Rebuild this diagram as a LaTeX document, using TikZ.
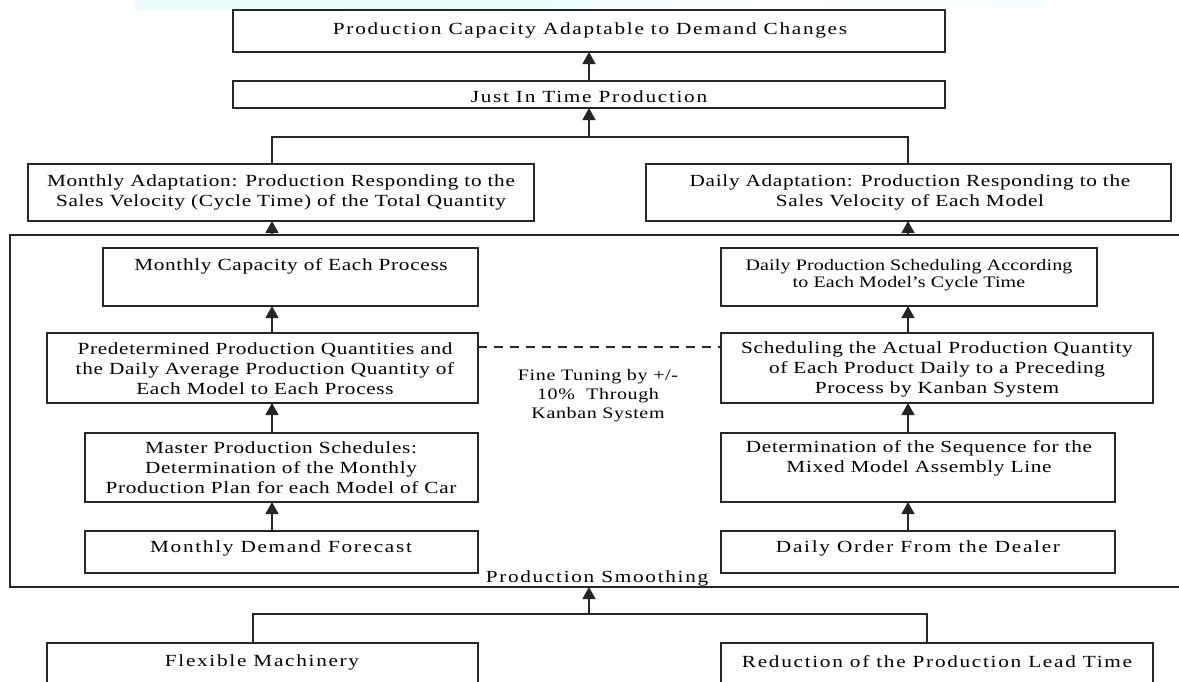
\documentclass[tikz,border=0pt]{standalone}
\usepackage{fontspec}
\setmainfont{Liberation Serif}[FakeStretch=1.25,LetterSpace=4]
\usetikzlibrary{arrows.meta}

% faint band along the top edge
\pgfdeclarehorizontalshading{topband}{100bp}{color(0bp)=(white); color(8bp)=(black!7); color(18bp)=(black!4); color(30bp)=(cyan!8); color(45bp)=(cyan!9); color(60bp)=(white); color(78bp)=(cyan!4); color(90bp)=(black!7); color(100bp)=(white)}

\begin{document}
\begin{tikzpicture}[x=1pt,y=-1pt,
  box/.style={draw=black!85, line width=1.3pt, fill=white, rectangle, inner sep=0pt, outer sep=0pt},
  txt/.style={align=center, inner sep=0pt, font=\fontsize{17}{20}\selectfont},
  widetxt/.style={align=center, inner sep=0pt, font=\fontsize{17}{20}\selectfont\addfontfeature{LetterSpace=10}},
  smalltxt/.style={align=center, inner sep=0pt, font=\fontsize{16}{17}\selectfont\addfontfeature{LetterSpace=1}},
  link/.style={draw=black!85, line width=1.3pt},
  up/.style={link, -{Triangle[length=12pt,width=13pt]}},
  dashline/.style={draw=black!85, line width=1.3pt, dash pattern=on 9pt off 7pt}
]
\useasboundingbox (0,0) rectangle (1179,681);
\clip (0,0) rectangle (1179,681);
\fill[white] (0,0) rectangle (1179,681);
\shade[shading=topband] (135,0) rectangle (1045,9);

% outer frame of the production smoothing block (open on the right)
\coordinate (frTR) at (1190,235);
\coordinate (frTL) at (10,235);
\coordinate (frBL) at (10,587);
\coordinate (frBR) at (1190,587);
\draw[link] (frTR) -- (frTL) -- (frBL) -- (frBR);

% boxes
\node[box, minimum width=712pt, minimum height=42pt] (top) at (589,31) {};
\node[box, minimum width=712pt, minimum height=27pt] (jit) at (589,94.5) {};
\node[box, minimum width=506pt, minimum height=57pt] (monad) at (281,192.5) {};
\node[box, minimum width=525pt, minimum height=57pt] (dayad) at (908.5,192.5) {};
\node[box, minimum width=375pt, minimum height=58pt] (cap) at (290.5,277) {};
\node[box, minimum width=431pt, minimum height=70pt] (pre) at (262.5,368) {};
\node[box, minimum width=393pt, minimum height=69pt] (mps) at (281.5,467.5) {};
\node[box, minimum width=393pt, minimum height=42pt] (mdf) at (281.5,552) {};
\node[box, minimum width=376pt, minimum height=58pt] (dps) at (909,277) {};
\node[box, minimum width=432pt, minimum height=70pt] (sch) at (937,368) {};
\node[box, minimum width=394pt, minimum height=69pt] (det) at (918,467.5) {};
\node[box, minimum width=394pt, minimum height=42pt] (dod) at (918,552) {};
\node[box, minimum width=431pt, minimum height=60pt] (flex) at (262.5,673) {};
\node[box, minimum width=432pt, minimum height=60pt] (red) at (937,673) {};

% box texts
\node[widetxt] (top-t) at (590,30) {Production Capacity Adaptable to Demand Changes};
\node[widetxt] (jit-t) at (589,97) {Just In Time Production};
\node[txt] (monad-t) at (281,192) {Monthly Adaptation: Production Responding to the\\Sales Velocity (Cycle Time) of the Total Quantity};
\node[txt] (dayad-t) at (910,192) {Daily Adaptation: Production Responding to the\\Sales Velocity of Each Model};
\node[txt] (cap-t) at (291,266) {Monthly Capacity of Each Process};
\node[txt] (pre-t) at (265,369) {Predetermined Production Quantities and\\the Daily Average Production Quantity of\\Each Model to Each Process};
\node[txt] (mps-t) at (281,468) {Master Production Schedules:\\Determination of the Monthly\\Production Plan for each Model of Car};
\node[widetxt] (mdf-t) at (281,548) {Monthly Demand Forecast};
\node[smalltxt] (dps-t) at (909,275.5) {Daily Production Scheduling According\\to Each Model's Cycle Time};
\node[txt] (sch-t) at (937,369.5) {Scheduling the Actual Production Quantity\\of Each Product Daily to a Preceding\\Process by Kanban System};
\node[txt] (det-t) at (919,458.5) {Determination of the Sequence for the\\Mixed Model Assembly Line};
\node[widetxt] (dod-t) at (918,548) {Daily Order From the Dealer};
\node[widetxt] (flex-t) at (262,662) {Flexible Machinery};
\node[widetxt] (red-t) at (937,662) {Reduction of the Production Lead Time};
\node[txt, font=\fontsize{16}{19}\selectfont] (fine) at (598,396) {Fine Tuning by +/-\\10\%\ \ Through\\Kanban System};
\node[widetxt, anchor=base] (ps) at (597,582) {Production Smoothing};

% junction points
\coordinate (jl) at (272,137);
\coordinate (jm) at (589,137);
\coordinate (jr) at (908,137);
\coordinate (fl) at (272,235);
\coordinate (fr) at (908,235);
\coordinate (fb) at (589,587);
\coordinate (bl) at (253,614);
\coordinate (bm) at (589,614);
\coordinate (br) at (927,614);
\coordinate (dsh) at (600,347);

% upper connectors
\draw[up] (jit.north) -- (top.south);
\draw[link] (jl |- monad.north) -- (jl) -- (jr) -- (jr |- dayad.north);
\draw[up] (jm) -- (jit.south);
\draw[up] (fl) -- (fl |- monad.south);
\draw[up] (fr) -- (fr |- dayad.south);

% monthly column
\draw[up] (pre.north -| fl) -- (cap.south -| fl);
\draw[up] (mps.north -| fl) -- (pre.south -| fl);
\draw[up] (mdf.north -| fl) -- (mps.south -| fl);

% daily column
\draw[up] (sch.north -| fr) -- (dps.south -| fr);
\draw[up] (det.north -| fr) -- (sch.south -| fr);
\draw[up] (dod.north -| fr) -- (det.south -| fr);

% fine tuning link
\draw[dashline] (pre.east |- dsh) -- (sch.west |- dsh);

% lower connectors
\draw[link] (bl |- flex.north) -- (bl) -- (br) -- (br |- red.north);
\draw[up] (bm) -- (fb);
\end{tikzpicture}
\end{document}
